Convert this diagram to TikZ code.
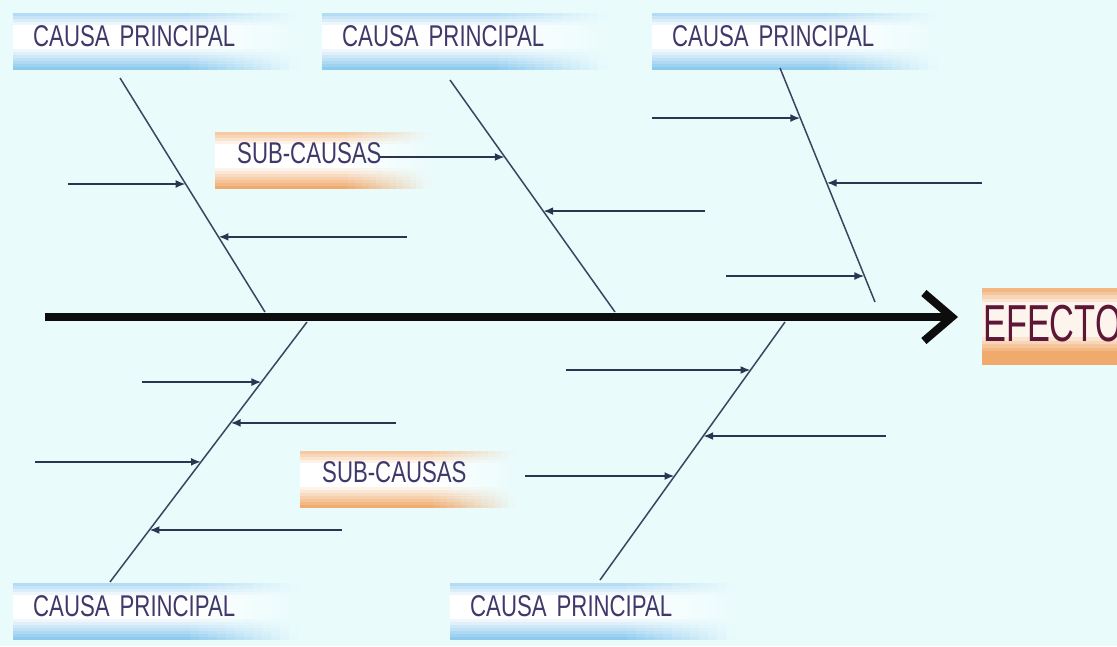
\documentclass[tikz,border=0pt]{standalone}
\usepackage{fontspec}
\usetikzlibrary{arrows.meta,calc}
\newfontfamily\causafont[FakeStretch=0.74]{Liberation Sans}
\newfontfamily\efectofont[FakeStretch=0.66]{Liberation Sans}
\definecolor{bgcyan}{HTML}{EAFBFC}
\definecolor{blueband}{HTML}{8CC9EE}
\definecolor{orangeband}{HTML}{F0AA6C}
\definecolor{labeltext}{HTML}{40386A}
\definecolor{efectotext}{HTML}{5E1636}
\definecolor{bonecol}{HTML}{3B4560}
\definecolor{subcol}{HTML}{2B3450}

% banded label background: x, y, width, colour
\newcommand{\bandbox}[4]{%
  \foreach \k in {0,...,18}{
    \pgfmathtruncatemacro\p{max(0,64-16*\k)+min(100,max(0,14*(\k-11)))}
    \colorlet{stripcol}{#4!\p!white}
    \fill[stripcol] ({#1},{#2+3*\k}) rectangle ++({0.62*#3+1},3.4);
    \foreach \j in {1,...,12}{
      \pgfmathtruncatemacro\q{100-8*\j}
      \fill[stripcol!\q!bgcyan] ({#1+0.62*#3+0.0317*#3*(\j-1)},{#2+3*\k}) rectangle ++({0.0317*#3+0.6},3.4);
    }
  }}

\begin{document}
\begin{tikzpicture}[x=1pt,y=-1pt,
          causa/.style={
            anchor=north west,
            minimum width=285pt,
            minimum height=57pt,
            text width=245pt,
            inner xsep=20pt,
            text depth=11pt,
            align=left,
            font=\causafont\fontsize{30}{30}\selectfont,
            text=labeltext
          },
          subcausa/.style={
            causa,
            minimum width=215pt,
            text width=171pt,
            inner xsep=22pt,
            text depth=16pt
          },
          bone/.style={line width=1.5pt,draw=bonecol},
          sub/.style={-{Latex[length=10pt,width=8pt]},line width=2.4pt,draw=subcol},
          spine/.style={-{Straight Barb[length=28pt,width=48pt]},line width=8pt,draw=black!95}
        ]
        \fill[bgcyan] (0,0) rectangle (1117,646);
        \useasboundingbox (0,0) rectangle (1117,646);

        % label backgrounds
        \foreach \x/\y in {13/13, 322/13, 652/13, 13/583, 450/583}
          \bandbox{\x}{\y}{285}{blueband};
        \foreach \x/\y in {215/132, 300/451}
          \bandbox{\x}{\y}{215}{orangeband};
        \foreach \k in {0,...,21}{
          \pgfmathtruncatemacro\p{min(100,max(12,85-18*\k,85+18*(\k-17)))}
          \fill[orangeband!\p!white] (982,{288+3.5*\k}) rectangle (1117,{291.9+3.5*\k});
        }

        % labels
        \node[causa] (c1) at (13,13) {CAUSA PRINCIPAL};
        \node[causa] (c2) at (322,13) {CAUSA PRINCIPAL};
        \node[causa] (c3) at (652,13) {CAUSA PRINCIPAL};
        \node[causa] (c4) at (13,583) {CAUSA PRINCIPAL};
        \node[causa] (c5) at (450,583) {CAUSA PRINCIPAL};
        \node[subcausa] (s1) at (215,132) {SUB-CAUSAS};
        \node[subcausa] (s2) at (300,451) {SUB-CAUSAS};
        \node[anchor=north west, minimum height=77pt, inner xsep=1pt, text depth=6pt,
              font=\efectofont\fontsize{52}{52}\selectfont, text=efectotext] (ef) at (982,288) {EFECTO};

        % spine
        \coordinate (tail) at (45,317);
        \draw[spine,shorten >=24pt] (tail) -- (tail -| ef.west);

        % bones
        \coordinate (b1-s) at (120,78);  \coordinate (b1-e) at (265,312);
        \coordinate (b2-s) at (450,80);  \coordinate (b2-e) at (615,312);
        \coordinate (b3-s) at (780,68);  \coordinate (b3-e) at (875,302);
        \coordinate (b4-s) at (307,322); \coordinate (b4-e) at (110,582);
        \coordinate (b5-s) at (785,322); \coordinate (b5-e) at (600,580);
        \foreach \b in {1,...,5}
          \draw[bone] (b\b-s) -- (b\b-e);

        % sub-causes
        \foreach \b/\t/\x [count=\i] in {1/0.453/68, 1/0.679/407, 2/0.332/380, 2/0.565/705,
            3/0.214/652, 3/0.491/982, 3/0.889/726,
            4/0.231/142, 4/0.388/396, 4/0.538/35, 4/0.800/342,
            5/0.186/566, 5/0.442/886, 5/0.597/525}{
          \coordinate (tip\i) at ($(b\b-s)!\t!(b\b-e)$);
          \coordinate (end\i) at (\x,0 |- tip\i);
          \draw[sub] (end\i) -- (tip\i);
        }
      \end{tikzpicture}
\end{document}
